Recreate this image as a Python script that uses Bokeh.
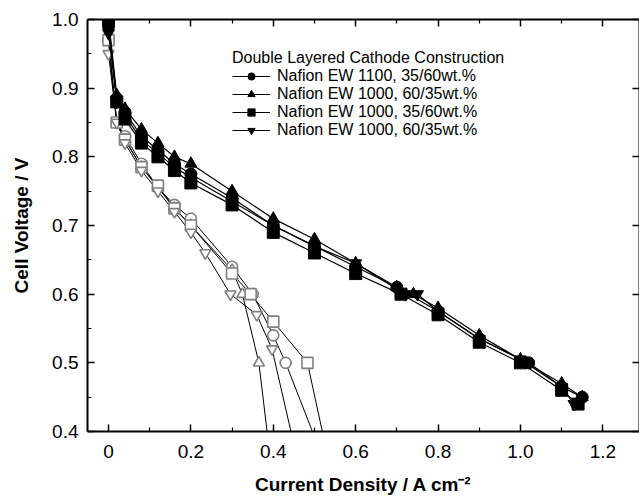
from bokeh.plotting import figure
from bokeh.models import (LinearAxis, FixedTicker, PrintfTickFormatter, Legend,
                          LegendItem, Range1d)
from bokeh.embed import file_html
from bokeh.resources import INLINE

FONT = "Liberation Sans"

# ---- filled (double layered) series ----
fc_x = [0, 0.02, 0.04, 0.08, 0.12, 0.16, 0.2, 0.3, 0.4, 0.5, 0.6, 0.7, 0.8, 0.9, 1.02, 1.1, 1.15]
fc_y = [0.99, 0.885, 0.865, 0.83, 0.81, 0.79, 0.775, 0.74, 0.70, 0.67, 0.64, 0.61, 0.575, 0.535, 0.50, 0.465, 0.45]

ft_x = [0, 0.02, 0.04, 0.08, 0.12, 0.16, 0.2, 0.3, 0.4, 0.5, 0.6, 0.7, 0.74, 0.8, 0.9, 1.0, 1.1, 1.15]
ft_y = [1.0, 0.89, 0.87, 0.84, 0.82, 0.80, 0.79, 0.75, 0.71, 0.68, 0.645, 0.61, 0.60, 0.58, 0.54, 0.505, 0.47, 0.45]

fs_x = [0, 0.02, 0.04, 0.08, 0.12, 0.16, 0.2, 0.3, 0.4, 0.5, 0.6, 0.71, 0.8, 0.9, 1.0, 1.1, 1.14]
fs_y = [1.0, 0.88, 0.855, 0.82, 0.80, 0.78, 0.762, 0.73, 0.69, 0.66, 0.63, 0.60, 0.57, 0.53, 0.50, 0.46, 0.44]

fi_x = [0, 0.02, 0.04, 0.08, 0.12, 0.16, 0.2, 0.3, 0.4, 0.5, 0.6, 0.72, 0.75, 0.8, 0.9, 1.0, 1.1, 1.13]
fi_y = [0.98, 0.88, 0.86, 0.825, 0.805, 0.785, 0.77, 0.735, 0.70, 0.67, 0.645, 0.60, 0.60, 0.575, 0.535, 0.505, 0.465, 0.44]

# ---- open (grey) series ----
oc_x = [0, 0.02, 0.04, 0.08, 0.12, 0.16, 0.2, 0.3, 0.35, 0.4, 0.43, 0.56]
oc_y = [0.97, 0.85, 0.83, 0.79, 0.755, 0.73, 0.71, 0.64, 0.60, 0.54, 0.50, 0.30]

ot_x = [0, 0.02, 0.04, 0.08, 0.12, 0.16, 0.2, 0.3, 0.325, 0.365, 0.405]
ot_y = [0.97, 0.85, 0.825, 0.785, 0.755, 0.725, 0.70, 0.635, 0.60, 0.50, 0.30]

os_x = [0, 0.02, 0.04, 0.08, 0.12, 0.16, 0.2, 0.3, 0.345, 0.4, 0.483, 0.555]
os_y = [0.97, 0.85, 0.825, 0.785, 0.758, 0.725, 0.70, 0.63, 0.60, 0.56, 0.50, 0.30]

oi_x = [0, 0.02, 0.04, 0.08, 0.12, 0.16, 0.2, 0.235, 0.296, 0.36, 0.397, 0.481]
oi_y = [0.95, 0.85, 0.82, 0.78, 0.75, 0.72, 0.69, 0.66, 0.60, 0.57, 0.52, 0.30]

labels = ["Nafion EW 1100, 35/60wt.%", "Nafion EW 1000, 60/35wt.%",
          "Nafion EW 1000, 35/60wt.%", "Nafion EW 1000, 60/35wt.%"]
legend_title = "Double Layered Cathode Construction"

x_ticks = [0, 0.2, 0.4, 0.6, 0.8, 1.0, 1.2]
x_minor = [0.1, 0.3, 0.5, 0.7, 0.9, 1.1]
y_ticks = [0.4, 0.5, 0.6, 0.7, 0.8, 0.9, 1.0]
y_minor = [0.45, 0.55, 0.65, 0.75, 0.85, 0.95]

p = figure(width=639, height=501, output_backend="svg", toolbar_location=None,
           x_range=Range1d(-0.051, 1.289), y_range=Range1d(0.4, 1.0),
           min_border_left=87, min_border_right=0, min_border_top=19,
           min_border_bottom=70, x_axis_label="Current Density / A cm\u207b\u00b2",
           y_axis_label="Cell Voltage / V")
p.xgrid.visible = False
p.ygrid.visible = False
p.outline_line_color = None
p.background_fill_color = "white"
p.border_fill_color = "white"

def style_axis(ax, show_labels=True):
    ax.axis_line_width = 2
    ax.axis_line_color = "black"
    ax.major_tick_in = 7
    ax.major_tick_out = 0
    ax.minor_tick_in = 4
    ax.minor_tick_out = 0
    ax.major_tick_line_width = 1.5
    ax.minor_tick_line_width = 1.2
    ax.major_tick_line_color = "black"
    ax.minor_tick_line_color = "black"
    ax.major_label_text_font = FONT
    ax.major_label_text_font_size = "19px"
    ax.major_label_text_color = "black"
    ax.axis_label_text_font = FONT
    ax.axis_label_text_font_size = "19px"
    ax.axis_label_text_font_style = "bold"
    ax.axis_label_text_color = "black"
    if not show_labels:
        ax.major_label_text_font_size = "1px"
        ax.major_label_text_color = None
        ax.major_label_standoff = 0

xax = p.xaxis[0]
xax.ticker = FixedTicker(ticks=x_ticks, minor_ticks=x_minor)
xax.formatter = PrintfTickFormatter(format="%.1f")
xax.major_label_overrides = {0: "0"}
style_axis(xax)
xax.major_label_standoff = 13
xax.axis_label_standoff = 13

yax = p.yaxis[0]
yax.ticker = FixedTicker(ticks=y_ticks, minor_ticks=y_minor)
yax.formatter = PrintfTickFormatter(format="%.1f")
style_axis(yax)
yax.major_label_standoff = 9
yax.axis_label_standoff = 17

top = LinearAxis(ticker=FixedTicker(ticks=x_ticks, minor_ticks=x_minor))
style_axis(top, show_labels=False)
p.add_layout(top, "above")

right = LinearAxis(ticker=FixedTicker(ticks=y_ticks, minor_ticks=[]))
style_axis(right, show_labels=False)
p.add_layout(right, "right")

GREY = "#808080"
open_series = [(oc_x, oc_y, "circle"), (ot_x, ot_y, "triangle"),
               (os_x, os_y, "square"), (oi_x, oi_y, "inverted_triangle")]
for xs, ys, mk in open_series:
    p.line(xs, ys, line_color="black", line_width=1)
for xs, ys, mk in open_series:
    p.scatter(xs, ys, marker=mk, size=11, fill_color="white",
              line_color=GREY, line_width=1.6)

filled_series = [(fc_x, fc_y, "circle"), (ft_x, ft_y, "triangle"),
                 (fs_x, fs_y, "square"), (fi_x, fi_y, "inverted_triangle")]
items = []
for (xs, ys, mk), lab in zip(filled_series, labels):
    ln = p.line(xs, ys, line_color="black", line_width=1.2)
    sc = p.scatter(xs, ys, marker=mk, size=12, fill_color="black", line_color="black")
    items.append(LegendItem(label=lab, renderers=[ln, sc]))

legend = Legend(items=items, location=(145, 292), title=legend_title,
                title_text_font=FONT, title_text_font_size="16px",
                title_text_font_style="normal", title_text_color="black",
                title_standoff=0,
                label_text_font=FONT, label_text_font_size="16px",
                label_text_color="black",
                glyph_width=38, glyph_height=18, label_height=16,
                label_standoff=7, spacing=0, padding=0, margin=0,
                border_line_color=None, background_fill_alpha=0)
p.add_layout(legend, "center")

open("out.html", "w").write(file_html(p, INLINE))
